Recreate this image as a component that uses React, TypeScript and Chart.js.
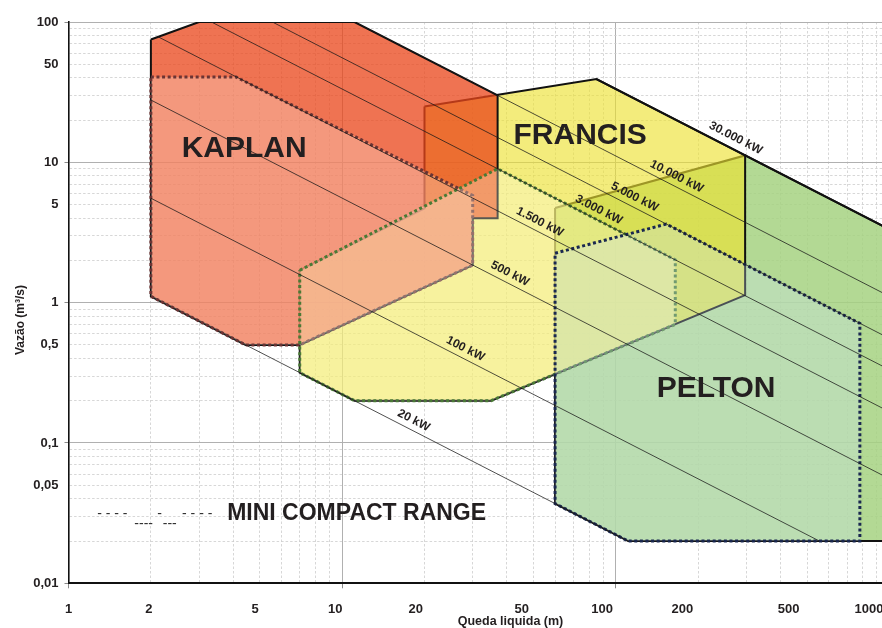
import React, { useEffect, useRef } from 'react';
import { Chart, registerables } from 'chart.js';

Chart.register(...registerables);

const FONT = "'Liberation Sans', Arial, Helvetica, sans-serif";
const TEXT = '#231f20';

// ---- axis ticks ----
const headGridTicks = [1, 2, 3, 4, 5, 6, 7, 8, 9, 10, 20, 30, 40, 50, 60, 70, 80, 90, 100, 200, 300, 400, 500, 600, 700, 800, 900, 1000];
const headLabelValues = [1, 2, 5, 10, 20, 50, 100, 200, 500, 1000];
const headLabelTexts = ['1', '2', '5', '10', '20', '50', '100', '200', '500', '1000'];
const flowGridTicks = [0.01, 0.02, 0.03, 0.04, 0.05, 0.06, 0.07, 0.08, 0.09, 0.1, 0.2, 0.3, 0.4, 0.5, 0.6, 0.7, 0.8, 0.9, 1, 2, 3, 4, 5, 6, 7, 8, 9, 10, 20, 30, 40, 50, 60, 70, 80, 90, 100];
const flowLabelValues = [0.01, 0.05, 0.1, 0.5, 1, 5, 10, 50, 100];
const flowLabelTexts = ['0,01', '0,05', '0,1', '0,5', '1', '5', '10', '50', '100'];

// ---- turbine application ranges (head m, flow m3/s) ----
const kaplanHead = [2, 3, 11.1, 37, 37, 30, 30, 7, 4.44, 2];
const kaplanFlow = [75, 100, 100, 30, 4, 4, 1.85, 0.5, 0.5, 1.11];
const kaplanMiniHead = [2, 4.1, 30, 30, 7, 4.44, 2];
const kaplanMiniFlow = [40.5, 40.5, 5.8, 1.85, 0.5, 0.5, 1.11];
const francisHead = [20, 85, 297, 297, 35, 11.1, 7, 7, 20];
const francisFlow = [25, 39.2, 11.2, 1.13, 0.2, 0.2, 0.317, 1.7, 4.69];
const francisMiniHead = [7, 37, 165, 165, 35, 11.1, 7];
const francisMiniFlow = [1.7, 9, 2.02, 0.7, 0.2, 0.2, 0.317];
const peltonHead = [60, 297, 1000, 1000, 111, 60];
const peltonFlow = [4.72, 11.2, 3.33, 0.02, 0.02, 0.037];
const peltonMiniHead = [60, 153, 780, 780, 111, 60];
const peltonMiniFlow = [2.25, 3.63, 0.711, 0.02, 0.02, 0.037];

// ---- constant power lines ----
const powerLabels = ['20 kW', '100 kW', '500 kW', '1.500 kW', '3.000 kW', '5.000 kW', '10.000 kW', '30.000 kW'];
const powerStartHead = [4.44, 2, 2, 2.13, 3.33, 5.56, 11.1, 85];
const powerStartFlow = [0.5, 5.55, 27.8, 78.3, 100, 100, 100, 39.2];
const powerEndHead = [111, 555, 1000, 1000, 1000, 1000, 1000, 1000];
const powerEndFlow = [0.02, 0.02, 0.0556, 0.167, 0.333, 0.556, 1.11, 3.33];
const powerLabelHead = [17.6, 27.2, 39.6, 50.9, 83.6, 113, 161, 263];
const powerLabelFlow = [0.126, 0.408, 1.4, 3.27, 3.99, 4.92, 6.9, 12.67];

// ---- in-chart text ----
const turbineNames = ['KAPLAN', 'FRANCIS', 'PELTON'];
const turbineNameHead = [4.385, 74.1, 232.6];
const turbineNameFlow = [12.44, 15.4, 0.2446];
const legendTitle = 'MINI COMPACT RANGE';
const legendTitleHead = 3.8;
const legendTitleFlow = 0.0316;
const legendDashText = ['- - - -', '----', '-', '---', '- - - -'];
const legendDashHead = [1.273, 1.74, 2.11, 2.21, 2.6];
const legendDashFlow = [0.0311, 0.0262, 0.0311, 0.0262, 0.0311];

const isMajor = (v: number) => {
  const l = Math.log10(v);
  return Math.abs(l - Math.round(l)) < 1e-9;
};

function polygon(label: string, heads: number[], flows: number[], fill: string, border: string, width: number, dash: number[]) {
  const data = heads.map((h, i) => ({ x: h, y: flows[i] }));
  data.push({ x: heads[0], y: flows[0] });
  return {
    label,
    data,
    fill: 'shape',
    backgroundColor: fill,
    borderColor: border,
    borderWidth: width,
    borderDash: dash,
    borderJoinStyle: 'miter',
    borderCapStyle: 'butt',
    pointRadius: 0,
    tension: 0,
    xAxisID: 'x',
    yAxisID: 'y',
  };
}

const annotations = {
  id: 'annotations',
  afterDatasetsDraw(chart: any) {
    const { ctx } = chart;
    const xs = chart.scales.x;
    const ys = chart.scales.y;
    const px = (h: number) => xs.getPixelForValue(h);
    const py = (q: number) => ys.getPixelForValue(q);
    ctx.save();
    ctx.fillStyle = TEXT;
    ctx.textAlign = 'center';
    ctx.textBaseline = 'middle';
    ctx.font = `bold 12px ${FONT}`;
    powerLabels.forEach((t, i) => {
      const x1 = px(powerStartHead[i]);
      const y1 = py(powerStartFlow[i]);
      const x2 = px(powerEndHead[i]);
      const y2 = py(powerEndFlow[i]);
      const a = Math.atan2(y2 - y1, x2 - x1);
      const off = i === powerLabels.length - 1 ? 11 : 9.5;
      const cx = px(powerLabelHead[i]) + Math.sin(a) * off;
      const cy = py(powerLabelFlow[i]) - Math.cos(a) * off;
      ctx.save();
      ctx.translate(cx, cy);
      ctx.rotate(a);
      ctx.fillText(t, 0, 0);
      ctx.restore();
    });
    ctx.font = `bold 30px ${FONT}`;
    turbineNames.forEach((t, i) => {
      ctx.fillText(t, px(turbineNameHead[i]), py(turbineNameFlow[i]));
    });
    ctx.textAlign = 'left';
    ctx.font = `bold 23px ${FONT}`;
    ctx.fillText(legendTitle, px(legendTitleHead), py(legendTitleFlow));
    ctx.font = `14px ${FONT}`;
    ctx.fillStyle = '#333';
    legendDashText.forEach((t, i) => {
      ctx.fillText(t, px(legendDashHead[i]), py(legendDashFlow[i]));
    });
    ctx.restore();
  },
  afterDraw(chart: any) {
    const { ctx, chartArea } = chart;
    ctx.save();
    ctx.fillStyle = TEXT;
    ctx.textAlign = 'center';
    ctx.textBaseline = 'middle';
    ctx.font = `bold 12px ${FONT}`;
    ctx.save();
    ctx.translate(chartArea.left - 48, chartArea.top + 298);
    ctx.rotate(-Math.PI / 2);
    ctx.fillText('Vazão (m³/s)', 0, 0);
    ctx.restore();
    ctx.font = `bold 12.5px ${FONT}`;
    ctx.fillText('Queda liquida (m)', chartArea.left + 442, chartArea.bottom + 38.5);
    ctx.restore();
  },
};

const gridColor = (c: any) => (c.tick && isMajor(c.tick.value) ? '#b0b0b0' : '#cdcdcd');
const gridWidth = (c: any) => (c.tick && isMajor(c.tick.value) ? 1 : 0.8);
const gridDash = (c: any) => (c.tick && !isMajor(c.tick.value) ? [2.5, 2] : []);
const tickColor = (c: any) => (c.tick && isMajor(c.tick.value) ? '#8a8a8a' : 'rgba(0,0,0,0)');

export default function App() {
  const ref = useRef<HTMLCanvasElement | null>(null);

  useEffect(() => {
    if (!ref.current) return;
    const dots = [3, 2.6];
    const layers: any[] = [
      polygon('Pelton', peltonHead, peltonFlow, 'rgba(166,210,129,0.85)', '#111', 2, []),
      polygon('Francis', francisHead, francisFlow, 'rgba(236,225,50,0.64)', '#111', 2, []),
      polygon('Kaplan', kaplanHead, kaplanFlow, 'rgba(234,70,26,0.756)', '#111', 2, []),
      polygon('Kaplan mini', kaplanMiniHead, kaplanMiniFlow, 'rgba(255,250,240,0.27)', '#6b3434', 3, dots),
      polygon('Francis mini', francisMiniHead, francisMiniFlow, 'rgba(255,255,235,0.3)', '#4a7a35', 3, dots),
      polygon('Pelton mini', peltonMiniHead, peltonMiniFlow, 'rgba(205,228,250,0.3)', '#1a2850', 3, dots),
    ];
    powerLabels.forEach((t, i) => {
      const last = i === powerLabels.length - 1;
      layers.push({
        label: t,
        data: [
          { x: powerStartHead[i], y: powerStartFlow[i] },
          { x: powerEndHead[i], y: powerEndFlow[i] },
        ],
        fill: false,
        borderColor: last ? '#111' : 'rgba(25,25,25,0.85)',
        borderWidth: last ? 2 : 0.9,
        pointRadius: 0,
        xAxisID: 'x',
        yAxisID: 'y',
      });
    });
    const n = layers.length;
    layers.forEach((d, i) => (d.order = n - i));

    const chart = new Chart(ref.current, {
      type: 'line',
      data: { datasets: layers },
      plugins: [annotations],
      options: {
        responsive: false,
        animation: false,
        devicePixelRatio: 1,
        events: [],
        layout: { padding: { left: 0, top: 22, right: 10.6, bottom: 0 } },
        plugins: { legend: { display: false }, tooltip: { enabled: false } },
        scales: {
          x: {
            type: 'logarithmic',
            position: 'bottom',
            weight: 0,
            min: 1,
            max: 1000,
            afterBuildTicks: (s: any) => {
              s.ticks = headGridTicks.map((v) => ({ value: v }));
            },
            afterFit: (s: any) => {
              s.height = 5;
            },
            ticks: { display: false, autoSkip: false },
            grid: { color: gridColor, lineWidth: gridWidth, tickLength: 5, tickColor, tickWidth: 1 },
            border: { display: true, color: '#111', width: 2, dash: gridDash },
          },
          xl: {
            type: 'logarithmic',
            axis: 'x',
            position: 'bottom',
            weight: 1,
            min: 1,
            max: 1193,
            afterBuildTicks: (s: any) => {
              s.ticks = headLabelValues.map((v) => ({ value: v }));
            },
            afterFit: (s: any) => {
              s.height = 39.7;
            },
            grid: { display: false, drawOnChartArea: false },
            border: { display: false },
            ticks: {
              autoSkip: false,
              maxRotation: 0,
              minRotation: 0,
              padding: 5,
              color: TEXT,
              font: { family: FONT, size: 13, weight: 'bold' },
              callback: (_v: any, i: number) => headLabelTexts[i],
            },
          },
          y: {
            type: 'logarithmic',
            position: 'left',
            min: 0.01,
            max: 100,
            afterBuildTicks: (s: any) => {
              s.ticks = flowGridTicks.map((v) => ({ value: v }));
            },
            afterFit: (s: any) => {
              s.width = 68.5;
            },
            ticks: {
              autoSkip: false,
              padding: 6,
              color: TEXT,
              font: { family: FONT, size: 13, weight: 'bold' },
              callback: (v: any) => {
                const idx = flowLabelValues.findIndex((lv) => Math.abs(Math.log10(lv) - Math.log10(Number(v))) < 1e-6);
                return idx >= 0 ? flowLabelTexts[idx] : '';
              },
            },
            grid: { color: gridColor, lineWidth: gridWidth, tickLength: 4, tickColor, tickWidth: 1 },
            border: { display: true, color: '#111', width: 1.6, dash: gridDash },
          },
        },
      } as any,
    } as any);
    return () => chart.destroy();
  }, []);

  return (
    <div style={{ position: 'fixed', left: 0, top: 0, width: 882, height: 628, overflow: 'hidden', background: '#fff' }}>
      <canvas ref={ref} width={900} height={628} style={{ display: 'block', width: 900, height: 628 }} />
    </div>
  );
}
